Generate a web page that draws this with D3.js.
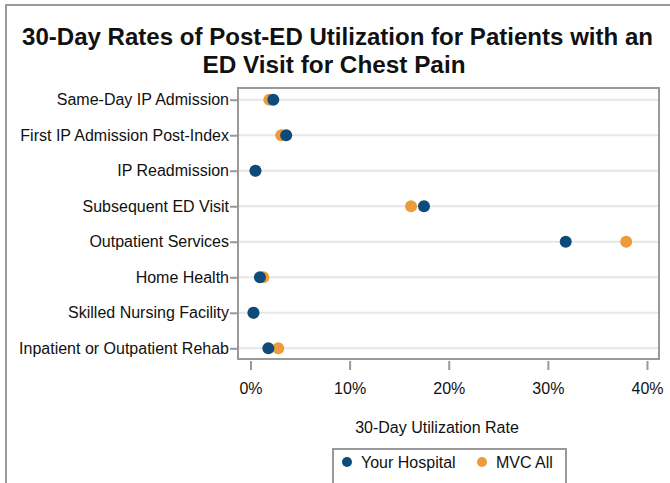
<!DOCTYPE html>
<html>
<head>
<meta charset="utf-8">
<script src="https://cdn.jsdelivr.net/npm/d3@7"></script>
<style>
  body { margin: 0; background: #fff; }
  svg { display: block; font-family: "Liberation Sans", Arial, sans-serif; }
</style>
</head>
<body>
<script>
// categories, top to bottom
const categories = [
  "Same-Day IP Admission",
  "First IP Admission Post-Index",
  "IP Readmission",
  "Subsequent ED Visit",
  "Outpatient Services",
  "Home Health",
  "Skilled Nursing Facility",
  "Inpatient or Outpatient Rehab",
];
// rates in %
const yourHospital = [2.3, 3.6, 0.5, 17.5, 31.8, 0.95, 0.3, 1.8];
const mvcAll = [1.9, 3.1, 0.5, 16.2, 37.9, 1.3, 0.3, 2.8];
const xTicks = [0, 10, 20, 30, 40];

const colors = { hosp: "#0b4c7a", mvc: "#ec9c3a" };

const width = 670;
const height = 483;
// plot area box
const box = { left: 238, right: 659, top: 88, bottom: 359 };

const svg = d3.select("body").append("svg").attr("width", width).attr("height", height);

// outer frame
svg.append("path")
  .attr("d", `M6,${height} L6,5 L${width},5`)
  .attr("fill", "none")
  .attr("stroke", "#9a9a9a")
  .attr("stroke-width", 2);

// title (two lines, stretched to the reference widths)
const titleLines = [
  { text: "30-Day Rates of Post-ED Utilization for Patients with an", x: 337.5, y: 45, len: 631 },
  { text: "ED Visit for Chest Pain", x: 334, y: 73, len: 263 },
];
svg.append("g")
  .selectAll("text")
  .data(titleLines)
  .join("text")
  .attr("x", (d) => d.x)
  .attr("y", (d) => d.y)
  .attr("text-anchor", "middle")
  .attr("font-weight", "bold")
  .attr("font-size", 23)
  .attr("fill", "#111")
  .attr("textLength", (d) => d.len)
  .attr("lengthAdjust", "spacingAndGlyphs")
  .text((d) => d.text);

const x = d3.scaleLinear().domain([0, 40]).range([250.5, 647]);
const y = d3.scalePoint().domain(categories).range([99.7, 348.3]);

// gridlines
svg.append("g")
  .selectAll("line")
  .data(categories)
  .join("line")
  .attr("x1", box.left)
  .attr("x2", box.right)
  .attr("y1", (d) => y(d))
  .attr("y2", (d) => y(d))
  .attr("stroke", "#e6e6e6")
  .attr("stroke-width", 2);

// plot box
svg.append("rect")
  .attr("x", box.left)
  .attr("y", box.top)
  .attr("width", box.right - box.left)
  .attr("height", box.bottom - box.top)
  .attr("fill", "none")
  .attr("stroke", "#999")
  .attr("stroke-width", 2);

// y axis
const yAxis = svg.append("g")
  .attr("transform", `translate(${box.left},0)`)
  .call(d3.axisLeft(y).tickSize(8).tickPadding(1));
yAxis.select(".domain").remove();
yAxis.selectAll(".tick line").attr("stroke", "#999").attr("stroke-width", 2);
yAxis.selectAll(".tick text")
  .attr("font-size", 16)
  .attr("font-family", "Liberation Sans, Arial, sans-serif")
  .attr("fill", "#111");

// x axis (offset below the box)
const xAxis = svg.append("g")
  .attr("transform", `translate(0,${box.bottom + 2})`)
  .call(d3.axisBottom(x).tickValues(xTicks).tickSize(9).tickPadding(13).tickFormat((d) => d + "%"));
xAxis.select(".domain").remove();
xAxis.selectAll(".tick line").attr("stroke", "#999").attr("stroke-width", 2);
xAxis.selectAll(".tick text")
  .attr("font-size", 16)
  .attr("font-family", "Liberation Sans, Arial, sans-serif")
  .attr("fill", "#111");

// axis title
svg.append("text")
  .attr("x", 437)
  .attr("y", 433)
  .attr("text-anchor", "middle")
  .attr("font-size", 16)
  .attr("fill", "#111")
  .text("30-Day Utilization Rate");

// dots: MVC first, hospital on top
const dots = svg.append("g");
dots.selectAll(".mvc")
  .data(categories)
  .join("circle")
  .attr("class", "mvc")
  .attr("cx", (d, i) => x(mvcAll[i]))
  .attr("cy", (d) => y(d))
  .attr("r", 6)
  .attr("fill", colors.mvc);
dots.selectAll(".hosp")
  .data(categories)
  .join("circle")
  .attr("class", "hosp")
  .attr("cx", (d, i) => x(yourHospital[i]))
  .attr("cy", (d) => y(d))
  .attr("r", 6)
  .attr("fill", colors.hosp);

// legend
const legend = svg.append("g");
legend.append("path")
  .attr("d", "M333,483 L333,449 L566,449 L566,483")
  .attr("fill", "none")
  .attr("stroke", "#999")
  .attr("stroke-width", 2);
const legendItems = [
  { label: "Your Hospital", color: colors.hosp, x: 347 },
  { label: "MVC All", color: colors.mvc, x: 482 },
];
const li = legend.selectAll(".item")
  .data(legendItems)
  .join("g")
  .attr("class", "item")
  .attr("transform", (d) => `translate(${d.x},462)`);
li.append("circle").attr("r", 5).attr("fill", (d) => d.color);
li.append("text")
  .attr("x", 14)
  .attr("y", 6)
  .attr("font-size", 16)
  .attr("fill", "#111")
  .text((d) => d.label);
</script>
</body>
</html>
